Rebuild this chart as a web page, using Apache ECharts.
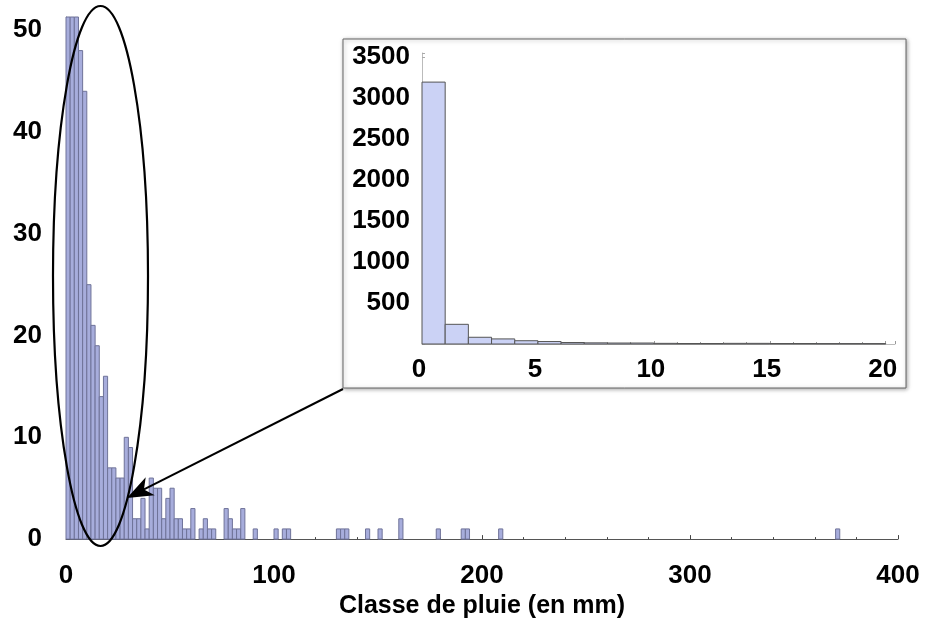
<!DOCTYPE html>
<html>
<head>
<meta charset="utf-8">
<script src="https://cdn.jsdelivr.net/npm/echarts@6/dist/echarts.min.js"></script>
<style>
    html, body { margin: 0; padding: 0; background: #fff; }
    #chart { width: 925px; height: 624px; }
</style>
</head>
<body>
<div id="chart"></div>
<script>
// histogramme principal : classes de 2 mm (bord gauche -> effectif), coupe a ~51
const mainBinWidth = 2;
const mainBinStart = [0, 2, 4, 6, 8, 10, 12, 14, 16, 18, 20, 22, 24, 26, 28, 30, 32, 34, 36, 38,
    40, 42, 44, 46, 48, 50, 52, 54, 56, 58, 60, 64, 66, 68, 70, 76, 78, 80, 82, 84, 90,
    100, 104, 106, 130, 132, 134, 144, 150, 160, 178, 190, 192, 208, 370];
const mainCounts = [160, 95, 62, 48, 44, 25, 21, 19, 14, 16, 7, 7, 6, 6, 10, 9, 2, 2, 4, 1,
    6, 5, 5, 2, 4, 5, 2, 2, 1, 1, 3, 1, 2, 1, 1, 3, 2, 1, 1, 3, 1,
    1, 1, 1, 1, 1, 1, 1, 1, 2, 1, 1, 1, 1, 1];

// encart : classes de 1 mm entre 0 et 20
const insetBinWidth = 1;
const insetBinStart = [0, 1, 2, 3, 4, 5, 6, 7, 8, 9, 10, 11, 12, 13, 14, 15, 16, 17, 18, 19];
const insetCounts = [3195, 240, 82, 62, 40, 30, 18, 14, 12, 12, 8, 6, 6, 8, 8, 6, 6, 5, 5, 5];

const mainXTicks = [0, 100, 200, 300, 400];
const mainYTicks = [0, 10, 20, 30, 40, 50];
const insetXTicks = [0, 5, 10, 15, 20];
const insetYTicks = [500, 1000, 1500, 2000, 2500, 3000, 3500];

const labelFont = {
    color: '#000',
    fontFamily: 'Liberation Sans',
    fontWeight: 'bold',
    fontSize: 26
};

// dessine une classe d'histogramme, coupee au cadre du repere
function histItem (binWidth, fill, stroke) {
    return function (params, api) {
        const x0 = api.value(0);
        const c = api.value(1);
        const p0 = api.coord([x0, 0]);
        const p1 = api.coord([x0 + binWidth, c]);
        const rect = echarts.graphic.clipRectByRect({
            x: p0[0],
            y: p1[1],
            width: p1[0] - p0[0],
            height: p0[1] - p1[1]
        }, params.coordSys);
        return rect && {
            type: 'rect',
            shape: rect,
            style: { fill: fill, stroke: stroke, lineWidth: 1 }
        };
    };
}

function tickFormatter (list) {
    return function (v) {
        return list.indexOf(Math.round(v * 1000) / 1000) >= 0 ? String(v) : '';
    };
}

// fleche de l'encart vers l'ellipse
const arrowFrom = [343, 389];
const arrowTip = [127, 498];
const dx = arrowTip[0] - arrowFrom[0];
const dy = arrowTip[1] - arrowFrom[1];
const len = Math.sqrt(dx * dx + dy * dy);
const ux = dx / len;
const uy = dy / len;
const headLen = 26;
const headHalf = 10;
const notch = 7;
const back = [arrowTip[0] - ux * headLen, arrowTip[1] - uy * headLen];
const notchPt = [arrowTip[0] - ux * (headLen - notch), arrowTip[1] - uy * (headLen - notch)];

const option = {
    animation: false,
    grid: [
        { left: 66, right: 27, top: 17, bottom: 81 },
        { left: 422, right: 30, top: 53, bottom: 280 }
    ],
    xAxis: [
        {
            gridIndex: 0,
            type: 'value',
            min: 0,
            max: 400,
            interval: 100,
            name: 'Classe de pluie (en mm)',
            nameLocation: 'middle',
            nameGap: 46,
            nameTextStyle: { color: '#000', fontFamily: 'Liberation Sans', fontWeight: 'bold', fontSize: 25 },
            axisLine: { lineStyle: { color: '#555', width: 1 } },
            axisTick: { inside: true, length: 4, lineStyle: { color: '#444' } },
            minorTick: { show: true, splitNumber: 5, length: 2, lineStyle: { color: '#444' } },
            splitLine: { show: false },
            axisLabel: Object.assign({ margin: 24, formatter: tickFormatter(mainXTicks) }, labelFont)
        },
        {
            gridIndex: 1,
            type: 'value',
            min: 0,
            max: 20.4,
            interval: 5,
            axisLine: { lineStyle: { color: '#bbb', width: 1 } },
            axisTick: { inside: true, length: 3, lineStyle: { color: '#999' } },
            minorTick: { show: true, splitNumber: 5, length: 2, lineStyle: { color: '#999' } },
            splitLine: { show: false },
            axisLabel: Object.assign({ margin: 13, padding: [0, 6, 0, 0], formatter: tickFormatter(insetXTicks) }, labelFont),
            z: 5
        }
    ],
    yAxis: [
        {
            gridIndex: 0,
            type: 'value',
            min: 0,
            max: 51.3,
            interval: 10,
            axisLine: { show: true, lineStyle: { color: '#888', width: 1 } },
            axisTick: { inside: true, length: 4, lineStyle: { color: '#444' } },
            minorTick: { show: true, splitNumber: 5, length: 2, lineStyle: { color: '#444' } },
            splitLine: { show: false },
            axisLabel: Object.assign({ margin: 24, padding: [0, 0, 5, 0], formatter: tickFormatter(mainYTicks) }, labelFont)
        },
        {
            gridIndex: 1,
            type: 'value',
            min: 0,
            max: 3550,
            interval: 500,
            axisLine: { show: true, lineStyle: { color: '#bbb', width: 1 } },
            axisTick: { inside: true, length: 3, lineStyle: { color: '#aaa' } },
            minorTick: { show: false },
            splitLine: { show: false },
            axisLabel: Object.assign({ margin: 12, formatter: tickFormatter(insetYTicks) }, labelFont),
            z: 5
        }
    ],
    series: [
        {
            type: 'custom',
            xAxisIndex: 0,
            yAxisIndex: 0,
            renderItem: histItem(mainBinWidth, '#a7addc', '#6f7399'),
            data: mainBinStart.map((x, i) => [x, mainCounts[i]]),
            z: 2
        },
        {
            type: 'custom',
            xAxisIndex: 1,
            yAxisIndex: 1,
            renderItem: histItem(insetBinWidth, '#cbd2f5', '#555'),
            data: insetBinStart.map((x, i) => [x, insetCounts[i]]),
            z: 6
        }
    ],
    graphic: [
        {
            type: 'rect',
            z: 1,
            shape: { x: 343, y: 39, width: 563, height: 349 },
            style: {
                fill: '#fff',
                stroke: '#666',
                lineWidth: 1,
                shadowBlur: 4,
                shadowOffsetX: 1,
                shadowOffsetY: 1,
                shadowColor: 'rgba(0,0,0,0.35)'
            }
        },
        {
            type: 'ellipse',
            z: 20,
            shape: { cx: 100.5, cy: 276, rx: 47.5, ry: 270 },
            style: { fill: 'none', stroke: '#000', lineWidth: 2.2 }
        },
        {
            type: 'line',
            z: 20,
            shape: { x1: arrowFrom[0], y1: arrowFrom[1], x2: notchPt[0], y2: notchPt[1] },
            style: { stroke: '#000', lineWidth: 2 }
        },
        {
            type: 'polygon',
            z: 20,
            shape: {
                points: [
                    arrowTip,
                    [back[0] - uy * headHalf, back[1] + ux * headHalf],
                    notchPt,
                    [back[0] + uy * headHalf, back[1] - ux * headHalf]
                ]
            },
            style: { fill: '#000' }
        }
    ]
};

const myChart = echarts.init(document.getElementById('chart'));
myChart.setOption(option);
</script>
</body>
</html>
